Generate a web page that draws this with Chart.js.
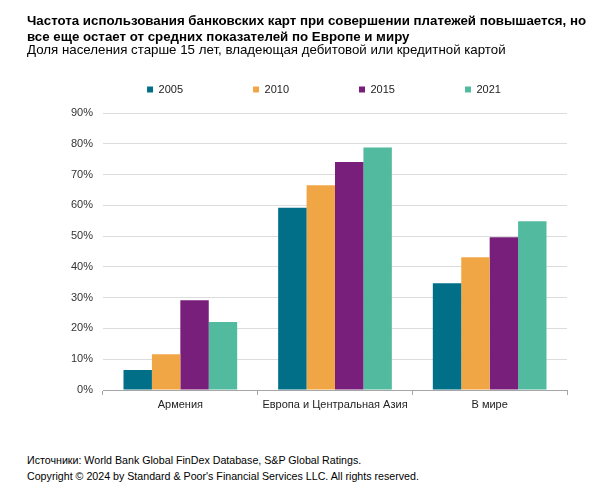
<!DOCTYPE html>
<html><head><meta charset="utf-8">
<script src="https://cdn.jsdelivr.net/npm/chart.js@4"></script>
<style>
body{margin:0;background:#fff;width:600px;height:500px;overflow:hidden;position:relative;font-family:"Liberation Sans",Arial,sans-serif;color:#000}
#title{position:absolute;left:27px;top:12.7px;font-size:13.3px;font-weight:bold;line-height:16px;z-index:2;white-space:nowrap}
#sub{position:absolute;left:27px;top:42px;font-size:13.3px;line-height:16px;z-index:2;white-space:nowrap}
#wrap{position:absolute;left:0;top:0;width:600px;height:430px}
.foot{position:absolute;left:27px;font-size:10.67px;line-height:13px;white-space:nowrap;z-index:2}
</style></head>
<body>
<div id="title">Частота использования банковских карт при совершении платежей повышается, но<br>все еще остает от средних показателей по Европе и миру</div>
<div id="sub">Доля населения старше 15 лет, владеющая дебитовой или кредитной картой</div>
<div id="wrap"><canvas id="c"></canvas></div>
<div class="foot" style="top:453.5px">Источники: World Bank Global FinDex Database, S&amp;P Global Ratings.</div>
<div class="foot" style="top:470.2px">Copyright © 2024 by Standard &amp; Poor's Financial Services LLC. All rights reserved.</div>
<script>
const categories = ["Армения", "Европа и Центральная Азия", "В мире"];
const seriesNames = ["2005", "2010", "2015", "2021"];
const values2005 = [6.5, 59.2, 34.7];
const values2010 = [11.6, 66.5, 43.1];
const values2015 = [29.2, 74.1, 49.6];
const values2021 = [22.1, 78.8, 54.8];
const yTicks = [0, 10, 20, 30, 40, 50, 60, 70, 80, 90];
const colors = ["#006f87", "#f1a646", "#781e7b", "#52ba9e"];

const allValues = [values2005, values2010, values2015, values2021];

const legendGap = {
  id: 'legendGap',
  afterInit(chart) {
    const lg = chart.legend;
    if (lg && !lg._gapWrapped) {
      const orig = lg.fit;
      lg.fit = function () { orig.call(this); this.height += 8; };
      lg._gapWrapped = true;
    }
  }
};

new Chart(document.getElementById('c'), {
  type: 'bar',
  data: {
    labels: categories,
    datasets: seriesNames.map((n, i) => ({
      label: n,
      data: allValues[i],
      backgroundColor: colors[i],
      borderWidth: 0,
      categoryPercentage: 0.735,
      barPercentage: 1
    }))
  },
  plugins: [legendGap],
  options: {
    responsive: true,
    maintainAspectRatio: false,
    animation: false,
    layout: { padding: { left: 48, right: 0, top: 14, bottom: 15 } },
    plugins: {
      legend: {
        position: 'top',
        labels: {
          boxWidth: 6, boxHeight: 6, padding: 70,
          color: '#222',
          font: { family: "'Liberation Sans', Arial, sans-serif", size: 11 }
        }
      },
      tooltip: { enabled: false }
    },
    scales: {
      x: {
        grid: { offset: true, drawOnChartArea: false, drawTicks: true, tickLength: 5, color: '#a6a6a6' },
        border: { color: '#a6a6a6' },
        ticks: { color: '#222', padding: 3, font: { family: "'Liberation Sans', Arial, sans-serif", size: 11 } },
        afterFit: s => { s.height = 25; }
      },
      y: {
        min: 0, max: 90,
        afterBuildTicks: s => { s.ticks = yTicks.map(v => ({ value: v })); },
        grid: { color: '#dcdcdc', drawTicks: false },
        border: { display: false },
        ticks: { color: '#333', padding: 10, callback: v => v + '%', font: { family: "'Liberation Sans', Arial, sans-serif", size: 11 } },
        afterFit: s => { s.width = 55; }
      },
      yRight: {
        position: 'right',
        display: true,
        grid: { display: false, drawTicks: false },
        border: { display: false },
        ticks: { display: false },
        afterFit: s => { s.width = 33; }
      }
    }
  }
});
</script>
</body></html>
